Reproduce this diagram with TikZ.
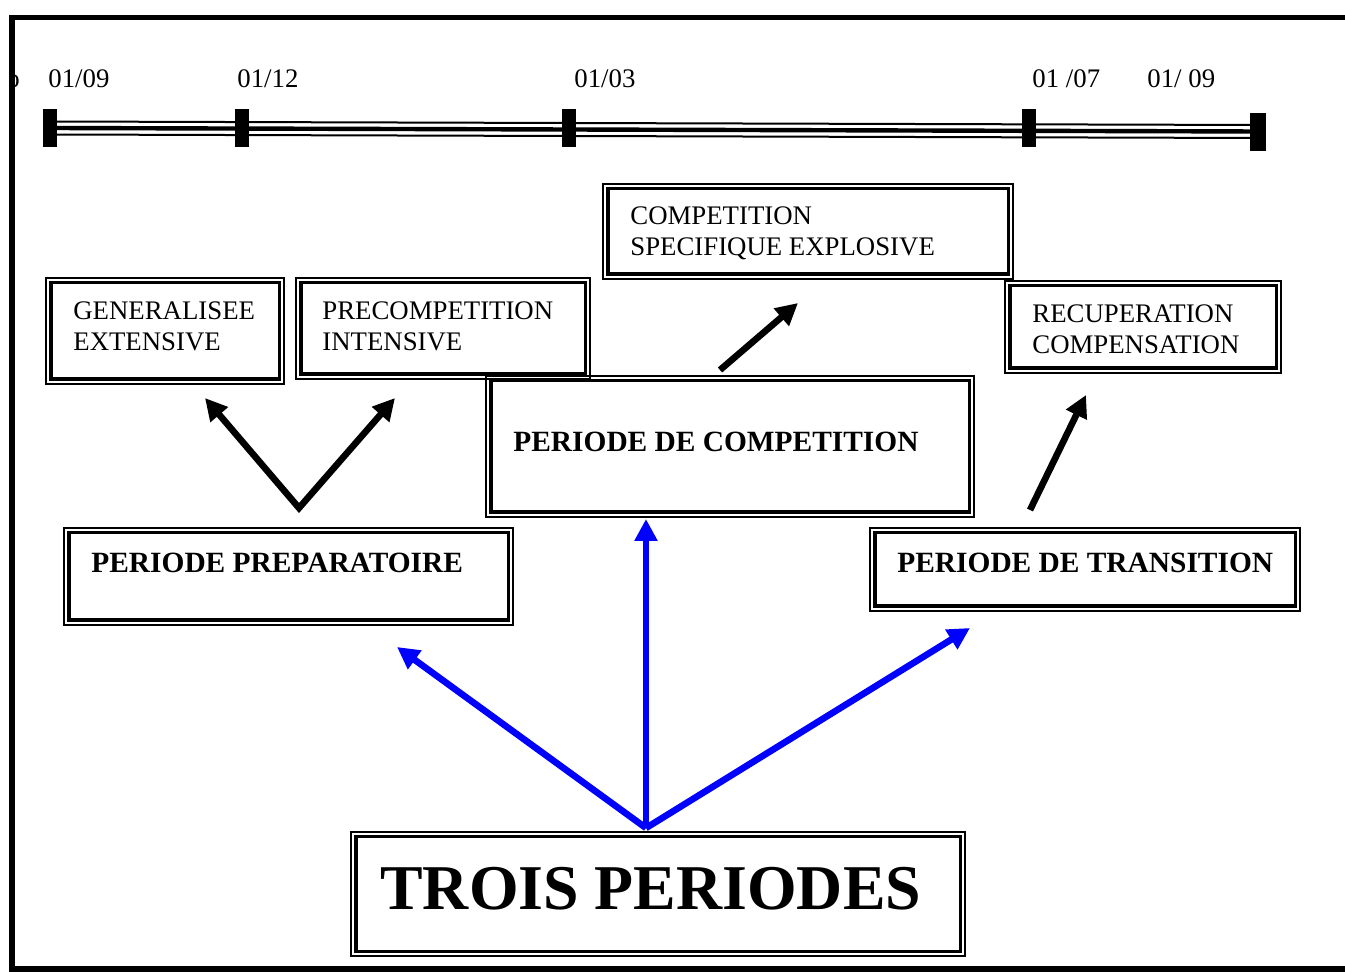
\documentclass[tikz,border=0pt]{standalone}
\usepackage{fontspec}
\setmainfont{Liberation Serif}
\usetikzlibrary{arrows.meta}

\tikzset{
  box/.style={draw, line width=0.9pt, inner sep=0pt,
    path picture={\draw[line width=1.7pt]
      ([shift={(2.4pt,-2.4pt)}]path picture bounding box.north west) rectangle
      ([shift={(-2.4pt,2.4pt)}]path picture bounding box.south east);}},
  txt/.style={inner sep=0pt, anchor=west, align=left, font=\fontsize{13.4}{15.5}\selectfont},
  btxt/.style={inner sep=0pt, anchor=west, font=\fontsize{14.7}{17}\selectfont\bfseries},
  blk/.style={line width=3.3pt, -{Triangle[length=11pt,width=11pt]}},
  blu/.style={blk, blue},
}

\begin{document}
\begin{tikzpicture}[x=0.5pt,y=-0.5pt]
\useasboundingbox (0,0) rectangle (1345,972);
% frame
\begin{scope}
\clip (14,60) rectangle (30,100);
\node[txt, anchor=center] (frag) at (13,81) {o};
\end{scope}
\draw[line width=2.8pt] (1345,17.5) -- (12,17.5) -- (12,972);
\draw[line width=2.8pt] (12,969) -- (1345,969);
% time line
\draw[line width=1pt] (50,121.5) -- (1258,125);
\draw[line width=2.2pt] (50,128) -- (1258,131.5);
\draw[line width=1pt] (50,134.5) -- (1258,138);
\foreach \x in {50,242,569,1029}
  \fill (\x-7,109) rectangle (\x+7,147);
\fill (1250,113) rectangle (1266,151);
\node[txt] (d1) at (48,79) {01/09};
\node[txt] (d2) at (237,79) {01/12};
\node[txt] (d3) at (574,79) {01/03};
\node[txt] (d4) at (1032,79) {01 /07};
\node[txt] (d5) at (1147,79) {01/ 09};
% boxes
\node[box, minimum width=119pt, minimum height=53pt] (gen) at (165,331) {};
\node[box, minimum width=147pt, minimum height=50.5pt] (pre) at (443,328.5) {};
\node[box, minimum width=205pt, minimum height=47.5pt] (spec) at (808,231.5) {};
\node[box, minimum width=244pt, minimum height=70.5pt] (comp) at (730,446.5) {};
\node[box, minimum width=138pt, minimum height=46pt] (recup) at (1143,327) {};
\node[box, minimum width=224.5pt, minimum height=48.5pt] (prep) at (288.5,576.5) {};
\node[box, minimum width=215pt, minimum height=41.5pt] (trans) at (1085,569.5) {};
\node[box, minimum width=307pt, minimum height=62pt] (trois) at (658,894) {};
% texts
\node[txt] (gen-t) at (73,326.5) {GENERALISEE\\EXTENSIVE};
\node[txt] (pre-t) at (322,326.5) {PRECOMPETITION\\INTENSIVE};
\node[txt] (spec-t) at (630,233.5) {COMPETITION\\SPECIFIQUE EXPLOSIVE};
\node[txt] (recup-t) at (1032,329.5) {RECUPERATION\\COMPENSATION};
\node[btxt] (comp-t) at (513,442) {PERIODE DE COMPETITION};
\node[btxt] (prep-t) at (91,563) {PERIODE PREPARATOIRE};
\node[btxt] (trans-t) at (897,563) {PERIODE DE TRANSITION};
\node[btxt, font=\fontsize{31.9}{36}\selectfont\bfseries] (trois-t) at (380,888.5) {TROIS PERIODES};
% arrows
\coordinate (v) at (299,508);
\coordinate (src) at (646,828);
\draw[blk, {Triangle[length=11pt,width=11pt]}-{Triangle[length=11pt,width=11pt]}]
  (205,398) -- (v) -- (395,398);
\draw[blk] (720,370) -- (798,303);
\draw[blk] (1030,510) -- (1086,395);
\draw[blu] (src) -- (397,647);
\draw[blu] (src) -- (646,519);
\draw[blu] (src) -- (970,628);
\end{tikzpicture}
\end{document}
